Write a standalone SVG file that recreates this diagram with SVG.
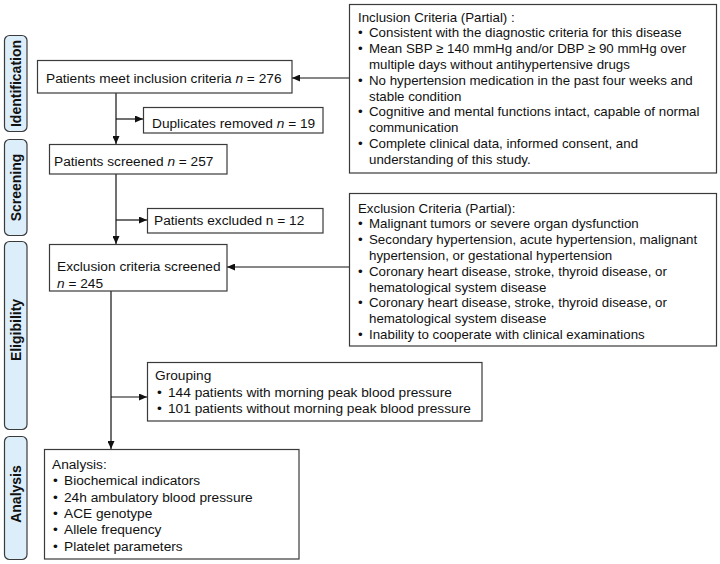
<svg xmlns="http://www.w3.org/2000/svg" width="720" height="564" viewBox="0 0 720 564">
<defs>
<marker id="arr" markerUnits="userSpaceOnUse" markerWidth="8" markerHeight="7" refX="8" refY="3.5" orient="auto">
<path d="M0,0 L8,3.5 L0,7 z" fill="#111"/>
</marker>
<style>
.box{fill:#fff;stroke:#3a3a3a;stroke-width:1.2}
.lab{fill:#ddeefb;stroke:#3a3a3a;stroke-width:1.2}
.lt{font-family:"Liberation Sans",Arial,sans-serif;font-weight:bold;font-size:14px;fill:#111;text-anchor:middle}
.t{font-family:"Liberation Sans",Arial,sans-serif;font-size:13.7px;fill:#111}
.c{font-family:"Liberation Sans",Arial,sans-serif;font-size:13.3px;fill:#111}
.ln{stroke:#111;stroke-width:1.2;fill:none}
.ar{stroke:#111;stroke-width:1.2;fill:none;marker-end:url(#arr)}
</style>
</defs>
<rect width="720" height="564" fill="#fff"/>

<g id="label-identification">
<rect class="lab" x="4.5" y="35.5" width="22.5" height="96" rx="5"/>
<text class="lt" transform="translate(20.8,83.5) rotate(-90)">Identification</text>
</g>
<g id="label-screening">
<rect class="lab" x="4.5" y="139.5" width="22.5" height="96" rx="5"/>
<text class="lt" transform="translate(20.8,187.5) rotate(-90)">Screening</text>
</g>
<g id="label-eligibility">
<rect class="lab" x="4.5" y="241.5" width="22.5" height="188" rx="5"/>
<text class="lt" transform="translate(20.8,330) rotate(-90)">Eligibility</text>
</g>
<g id="label-analysis">
<rect class="lab" x="4.5" y="436.5" width="22.5" height="123" rx="5"/>
<text class="lt" transform="translate(20.8,494) rotate(-90)">Analysis</text>
</g>

<g id="connectors">
<line class="ar" x1="116" y1="93" x2="116" y2="144"/>
<line class="ar" x1="116" y1="119" x2="143" y2="119"/>
<line class="ar" x1="116" y1="174" x2="116" y2="244"/>
<line class="ar" x1="116" y1="220" x2="147" y2="220"/>
<line class="ar" x1="349" y1="78" x2="292" y2="78"/>
<line class="ar" x1="349" y1="267" x2="227" y2="267"/>
<line class="ar" x1="111" y1="291" x2="111" y2="449"/>
<line class="ar" x1="111" y1="397" x2="147" y2="397"/>
</g>

<g id="node-inclusion-met">
<rect class="box" x="37.5" y="60.5" width="254.5" height="32.5"/>
<text class="t" x="46" y="82.5">Patients meet inclusion criteria <tspan font-style="italic">n</tspan> = 276</text>
</g>
<g id="node-duplicates">
<rect class="box" x="143.5" y="107.5" width="179.5" height="25.5"/>
<text class="t" x="152" y="128">Duplicates removed <tspan font-style="italic">n</tspan> = 19</text>
</g>
<g id="node-screened">
<rect class="box" x="49.5" y="144.5" width="177.5" height="29.5"/>
<text class="t" x="54" y="166">Patients screened <tspan font-style="italic">n</tspan> = 257</text>
</g>
<g id="node-excluded">
<rect class="box" x="147.5" y="208.5" width="175.5" height="24.5"/>
<text class="t" x="154" y="225">Patients excluded n = 12</text>
</g>
<g id="node-exclusion-screened">
<rect class="box" x="49.5" y="244.5" width="177.5" height="46.5"/>
<text class="t" x="57" y="271">Exclusion criteria screened</text>
<text class="t" x="57" y="288"><tspan font-style="italic">n</tspan> = 245</text>
</g>
<g id="node-grouping">
<rect class="box" x="147.5" y="362.5" width="334.5" height="58.5"/>
<text class="t" x="155" y="380">Grouping</text>
<text class="t" x="157" y="397">•</text><text class="t" x="168" y="397">144 patients with morning peak blood pressure</text>
<text class="t" x="157" y="413">•</text><text class="t" x="168" y="413">101 patients without morning peak blood pressure</text>
</g>
<g id="node-analysis">
<rect class="box" x="44.5" y="449.5" width="254.5" height="109.5"/>
<text class="t" x="52" y="469">Analysis:</text>
<text class="t" x="53" y="485">•</text><text class="t" x="64" y="485">Biochemical indicators</text>
<text class="t" x="53" y="502">•</text><text class="t" x="64" y="502">24h ambulatory blood pressure</text>
<text class="t" x="53" y="518">•</text><text class="t" x="64" y="518">ACE genotype</text>
<text class="t" x="53" y="534">•</text><text class="t" x="64" y="534">Allele frequency</text>
<text class="t" x="53" y="551">•</text><text class="t" x="64" y="551">Platelet parameters</text>
</g>
<g id="node-inclusion-criteria">
<rect class="box" x="349.5" y="4.5" width="367" height="168.5"/>
<text class="c" x="358" y="21.5">Inclusion Criteria (Partial) :</text>
<text class="c" x="358" y="37.3">•</text><text class="c" x="369" y="37.3">Consistent with the diagnostic criteria for this disease</text>
<text class="c" x="358" y="53.1">•</text><text class="c" x="369" y="53.1">Mean SBP ≥ 140 mmHg and/or DBP ≥ 90 mmHg over</text>
<text class="c" x="369" y="68.9">multiple days without antihypertensive drugs</text>
<text class="c" x="358" y="84.7">•</text><text class="c" x="369" y="84.7">No hypertension medication in the past four weeks and</text>
<text class="c" x="369" y="100.5">stable condition</text>
<text class="c" x="358" y="116.3">•</text><text class="c" x="369" y="116.3">Cognitive and mental functions intact, capable of normal</text>
<text class="c" x="369" y="132.1">communication</text>
<text class="c" x="358" y="147.9">•</text><text class="c" x="369" y="147.9">Complete clinical data, informed consent, and</text>
<text class="c" x="369" y="163.7">understanding of this study.</text>
</g>
<g id="node-exclusion-criteria">
<rect class="box" x="349.5" y="193.5" width="367" height="152.5"/>
<text class="c" x="358" y="212.5">Exclusion Criteria (Partial):</text>
<text class="c" x="358" y="228.3">•</text><text class="c" x="369" y="228.3">Malignant tumors or severe organ dysfunction</text>
<text class="c" x="358" y="244.1">•</text><text class="c" x="369" y="244.1">Secondary hypertension, acute hypertension, malignant</text>
<text class="c" x="369" y="259.9">hypertension, or gestational hypertension</text>
<text class="c" x="358" y="275.7">•</text><text class="c" x="369" y="275.7">Coronary heart disease, stroke, thyroid disease, or</text>
<text class="c" x="369" y="291.5">hematological system disease</text>
<text class="c" x="358" y="307.3">•</text><text class="c" x="369" y="307.3">Coronary heart disease, stroke, thyroid disease, or</text>
<text class="c" x="369" y="323.1">hematological system disease</text>
<text class="c" x="358" y="338.9">•</text><text class="c" x="369" y="338.9">Inability to cooperate with clinical examinations</text>
</g>
</svg>
